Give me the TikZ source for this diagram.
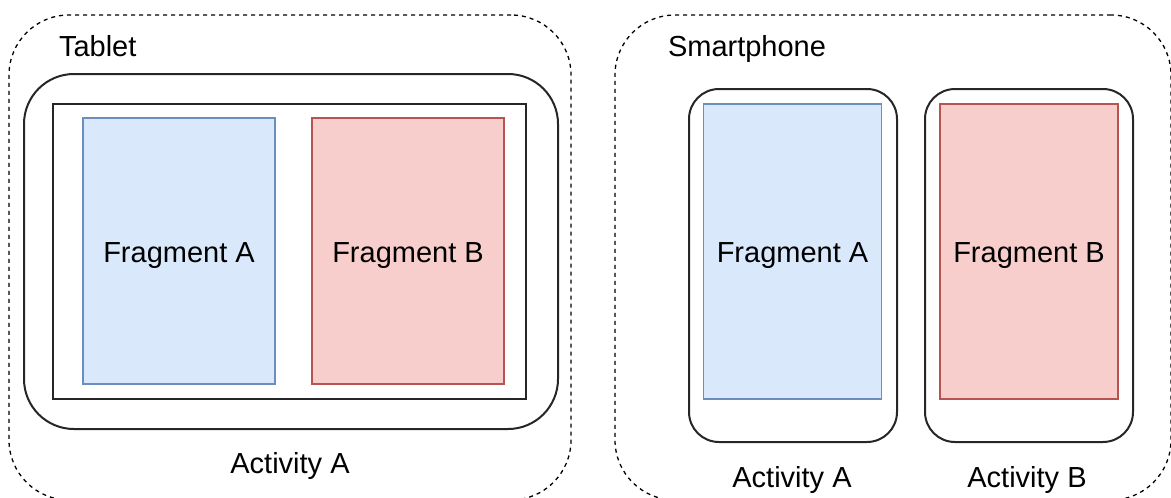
\documentclass[tikz,border=0pt]{standalone}
\usepackage{fontspec}
\setmainfont{Liberation Sans}
\begin{document}
\begin{tikzpicture}[x=1pt,y=-1pt,
  every node/.style={inner sep=0pt,outer sep=0pt},
  device/.style={draw=black,dashed,dash pattern=on 4pt off 4pt,line width=1.3pt,rounded corners=60pt},
  frame/.style={draw=black!85,line width=2pt,rounded corners=#1},
  screen/.style={draw=black!85,line width=2pt},
  fragA/.style={fill=blueFill,draw=blueLine,line width=1.3pt},
  fragB/.style={fill=redFill,draw=redLine,line width=1.3pt},
  lbl/.style={font=\fontsize{29}{34}\selectfont,text height=24pt,text depth=2pt}
]
\definecolor{blueFill}{HTML}{DAE8FC}
\definecolor{blueLine}{HTML}{6C8EBF}
\definecolor{redFill}{HTML}{F8CECC}
\definecolor{redLine}{HTML}{B85450}
\useasboundingbox (0,0) rectangle (1171,498);

% Tablet: one activity holding both fragments
\node[device,minimum width=562pt,minimum height=485pt] (tablet) at (290,257.5) {};
\node[lbl,anchor=west] (tabletLbl) at (59,45) {Tablet};
\node[frame=50pt,minimum width=534pt,minimum height=355pt] (actA) at (291,251.5) {};
\node[screen,minimum width=473pt,minimum height=295pt] (tabScreen) at (289.5,251.5) {};
\node[fragA,minimum width=192pt,minimum height=266pt,lbl] (tfa) at (179,251) {Fragment A};
\node[fragB,minimum width=192pt,minimum height=266pt,lbl] (tfb) at (408,251) {Fragment B};
\node[lbl] (actALbl) at (290,462) {Activity A};

% Smartphone: one fragment per activity
\node[device,minimum width=556pt,minimum height=485pt] (phone) at (893,257.5) {};
\node[lbl,anchor=west] (phoneLbl) at (668,45) {Smartphone};
\node[frame=30pt,minimum width=208pt,minimum height=353pt] (pa) at (793,265.5) {};
\node[fragA,minimum width=178pt,minimum height=295pt,lbl] (pfa) at (792.5,251.5) {Fragment A};
\node[frame=30pt,minimum width=208pt,minimum height=353pt] (pb) at (1029,265.5) {};
\node[fragB,minimum width=178pt,minimum height=295pt,lbl] (pfb) at (1029,251.5) {Fragment B};
\node[lbl] (paLbl) at (792,476) {Activity A};
\node[lbl] (pbLbl) at (1027,476) {Activity B};
\end{tikzpicture}
\end{document}
